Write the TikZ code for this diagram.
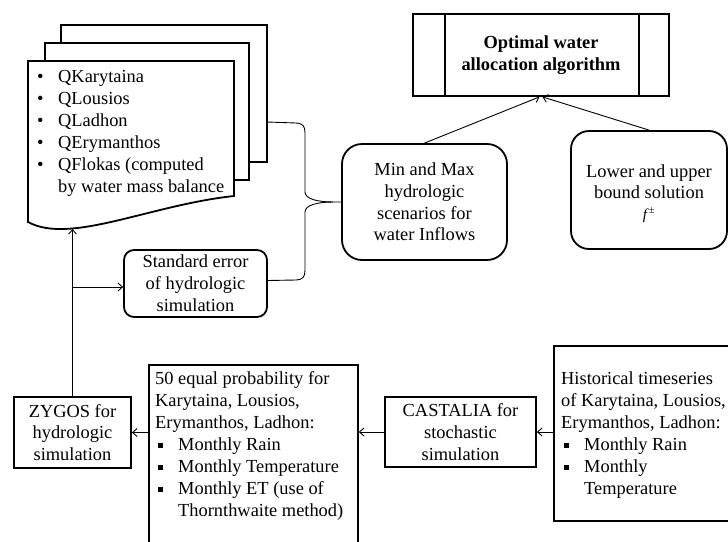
\documentclass[tikz,border=0pt]{standalone}
\usepackage{fontspec}
\setmainfont{Liberation Serif}
\usetikzlibrary{arrows.meta}
\newcommand\fs{\fontsize{18.4}{21.8}\selectfont}
\newcommand\fsl{\fontsize{18.4}{22}\selectfont}
\newcommand\sqb{\hspace*{3pt}\makebox[20pt][l]{\rule[2.3pt]{5pt}{5pt}}}
\newcommand\sqi{\hspace*{23pt}}
\newcommand\dotb{\makebox[21pt][l]{\textbullet}}
\begin{document}
\begin{tikzpicture}[x=1pt,y=-1pt,
  box/.style={draw, line width=1.8pt, align=center, inner sep=0pt, font=\fs},
  sheet/.style={draw, line width=1.8pt, fill=white},
  conn/.style={line width=0.9pt},
  arr/.style={conn, -{Straight Barb[length=4.5pt,width=8pt,line width=0.9pt]}},
  txt/.style={anchor=base west, inner sep=0pt, font=\fsl},
]
\useasboundingbox (0,0) rectangle (728,541);

% multi-document
\draw[sheet] (61,25) rectangle (267,162);
\draw[sheet] (45,43) rectangle (249,180);
\draw[sheet] (28,61) -- (234,61) -- (234,196)
  .. controls (150,205) and (70,245) .. (28,222) -- cycle;
\coordinate (docR) at (267,122);
\coordinate (docB) at (72.5,229);
\node[txt] (doctext) at (37,82) {\begin{tabular}[t]{@{}l@{}}
\dotb QKarytaina\\
\dotb QLousios\\
\dotb QLadhon\\
\dotb QErymanthos\\
\dotb QFlokas (computed\\
\hspace*{21pt}by water mass balance
\end{tabular}};

% top box
\node[box, font=\fs\bfseries, minimum width=256pt, minimum height=82pt] (opt) at (541,55)
  {Optimal water\\allocation algorithm};
\draw[line width=1.8pt] ([xshift=33pt]opt.north west) -- ([xshift=33pt]opt.south west);
\draw[line width=1.8pt] ([xshift=-31pt]opt.north east) -- ([xshift=-31pt]opt.south east);

% rounded boxes
\node[box, rounded corners=20pt, minimum width=165pt, minimum height=116pt] (mm) at (424.5,202)
  {Min and Max\\hydrologic\\scenarios for\\water Inflows};
\node[box, rounded corners=18pt, minimum width=156pt, minimum height=118pt] (lu) at (649,190) {};
\node[anchor=base, inner sep=0pt, font=\fontsize{18.4}{21}\selectfont] (lutext) at (649,177)
  {\begin{tabular}[t]{@{}c@{}}Lower and upper\\bound solution\\{\fontsize{15}{21}\selectfont\textit{f}\textsuperscript{±}}\end{tabular}};
\node[box, rounded corners=10pt, minimum width=143pt, minimum height=67pt] (se) at (195.5,283.5)
  {Standard error\\of hydrologic\\simulation};

% bottom row
\node[box, minimum width=117pt, minimum height=71pt] (zy) at (72.5,432.5)
  {ZYGOS for\\hydrologic\\simulation};
\node[box, minimum width=151pt, minimum height=70pt] (cas) at (460.5,432)
  {CASTALIA for\\stochastic\\simulation};
\node[draw, line width=1.8pt, inner sep=0pt, minimum width=209pt, minimum height=200pt, anchor=north west] (eq) at (148,364) {};
\node[txt] (eqtext) at (155,384) {\begin{tabular}[t]{@{}l@{}}
50 equal probability for\\
Karytaina, Lousios,\\
Erymanthos, Ladhon:\\
\sqb Monthly Rain\\
\sqb Monthly Temperature\\
\sqb Monthly ET (use of\\
\sqi Thornthwaite method)
\end{tabular}};
\node[draw, line width=1.8pt, inner sep=0pt, minimum width=195pt, minimum height=175pt, anchor=north west] (hist) at (553,345) {};
\node[txt] (histtext) at (561,384) {\begin{tabular}[t]{@{}l@{}}
Historical timeseries\\
of Karytaina, Lousios,\\
Erymanthos, Ladhon:\\
\sqb Monthly Rain\\
\sqb Monthly\\
\sqi Temperature
\end{tabular}};

% connectors
\draw[arr] (mm.north) -- ([xshift=-1.5pt]opt.south);
\draw[arr] (lu.north) -- ([xshift=1.5pt]opt.south);
\draw[conn] (docR) -- (296,123) .. controls (303,123.5) and (305,126) .. (305,133)
  -- (305,192) .. controls (305,199) and (318,202) .. (333,202) -- (mm.west);
\draw[conn] ([yshift=3pt]se.east) -- (296,280) .. controls (303,279.5) and (305,277) .. (305,270)
  -- (305,212) .. controls (305,205) and (318,202) .. (333,202);
\draw[arr] (zy.north) -- (docB);
\coordinate (br) at (72.5,287);
\draw[arr] (br) -- (br -| se.west);
\draw[arr] (hist.west |- cas.east) -- (cas.east);
\draw[arr] (cas.west) -- (cas.west -| eq.east);
\draw[arr] (zy.east -| eq.west) -- (zy.east);
\end{tikzpicture}
\end{document}
